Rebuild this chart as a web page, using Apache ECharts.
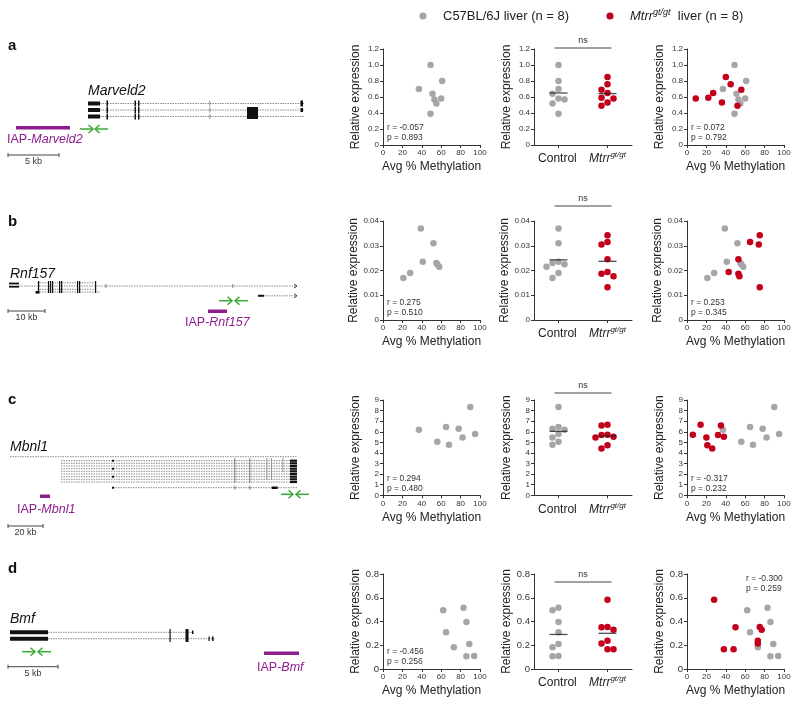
<!DOCTYPE html>
<html><head><meta charset="utf-8">
<script src="https://cdn.jsdelivr.net/npm/echarts@6/dist/echarts.min.js"></script>
<style>html,body{margin:0;padding:0;background:#fff}#c{width:800px;height:707px}</style>
</head><body><div id="c"></div><script>
// ---------------- DATA ----------------
const groupLabels = ['Control', 'Mtrr'];
const genes = ['Marveld2', 'Rnf157', 'Mbnl1', 'Bmf'];

const marveld2CtrlMeth = [37, 49, 51, 53, 55, 49, 61, 60];
const marveld2CtrlExpr = [0.70, 1.00, 0.64, 0.57, 0.52, 0.39, 0.80, 0.58];
const marveld2MtrrMeth = [9, 22, 27, 36, 40, 45, 52, 56];
const marveld2MtrrExpr = [0.58, 0.59, 0.65, 0.53, 0.85, 0.76, 0.49, 0.69];

const rnf157CtrlMeth = [39, 52, 41, 55, 56, 58, 21, 28];
const rnf157CtrlExpr = [0.037, 0.031, 0.0235, 0.023, 0.0225, 0.0215, 0.017, 0.019];
const rnf157MtrrMeth = [65, 75, 74, 53, 43, 53, 54, 75];
const rnf157MtrrExpr = [0.0315, 0.0342, 0.0305, 0.0245, 0.0194, 0.0187, 0.0177, 0.0132];

const mbnl1CtrlMeth = [37, 56, 65, 68, 78, 82, 95, 90];
const mbnl1CtrlExpr = [6.2, 5.05, 6.45, 4.77, 6.28, 5.47, 5.8, 8.33];
const mbnl1MtrrMeth = [6, 14, 20, 21, 26, 32, 35, 38];
const mbnl1MtrrExpr = [5.72, 6.66, 5.47, 4.72, 4.43, 5.69, 6.6, 5.53];

const bmfCtrlMeth = [62, 65, 73, 83, 86, 89, 86, 94];
const bmfCtrlExpr = [0.494, 0.31, 0.183, 0.516, 0.396, 0.21, 0.107, 0.11];
const bmfMtrrMeth = [28, 38, 48, 50, 73, 73, 75, 77];
const bmfMtrrExpr = [0.584, 0.166, 0.166, 0.351, 0.238, 0.215, 0.354, 0.33];

const corrCtrlText = [['r = -0.057', 'p = 0.893'], ['r = 0.275', 'p = 0.510'], ['r = 0.294', 'p = 0.480'], ['r = -0.456', 'p = 0.256']];
const corrAllText = [['r = 0.072', 'p = 0.792'], ['r = 0.253', 'p = 0.345'], ['r = -0.317', 'p = 0.232'], ['r = -0.300', 'p = 0.259']];
const sigText = ['ns', 'ns', 'ns', 'ns'];
const yMaxes = [1.2, 0.04, 9, 0.8];
const yIntervals = [0.2, 0.01, 1, 0.2];
const yDecimals = [1, 2, 0, 1];

const rowsData = [
  [marveld2CtrlMeth, marveld2CtrlExpr, marveld2MtrrMeth, marveld2MtrrExpr],
  [rnf157CtrlMeth, rnf157CtrlExpr, rnf157MtrrMeth, rnf157MtrrExpr],
  [mbnl1CtrlMeth, mbnl1CtrlExpr, mbnl1MtrrMeth, mbnl1MtrrExpr],
  [bmfCtrlMeth, bmfCtrlExpr, bmfMtrrMeth, bmfMtrrExpr]
];

// ---------------- STYLE / LAYOUT ----------------
const C_GREY = '#a6a6a6', C_RED = '#c3001b', C_AX = '#333', C_PURPLE = '#8e1e8c', C_GREEN = '#3aa935';
const FONT = '"Liberation Sans", Arial, Helvetica, sans-serif';
const colLeft = [383, 534, 687], colWidth = [97, 98, 97];
const rowTop = [49, 221, 400, 574], rowHeight = [96, 99, 95.3, 95];
const nsY = [48, 206, 393, 582];
const yLabelSize = [8, 8, 8, 9.5];

function swarm(values, pxPerUnit) {
  const step = 6, minD = 6;
  const order = values.map((v, i) => i).sort((a, b) => values[b] - values[a]);
  const placed = [], off = new Array(values.length).fill(0);
  const cands = [0, -1, 1, -2, 2, -3, 3];
  order.forEach(i => {
    const y = values[i] * pxPerUnit;
    for (const k of cands) {
      const x = k * step;
      if (placed.every(p => Math.hypot(p.x - x, p.y - y) >= minD)) { off[i] = x; placed.push({x, y}); break; }
    }
  });
  return off;
}
const mean = a => a.reduce((s, v) => s + v, 0) / a.length;
const zip = (a, b) => a.map((v, i) => [v, b[i]]);

const grid = [], xAxis = [], yAxis = [], series = [], graphic = [];
const axisCommon = {
  axisLine: {show: true, lineStyle: {color: C_AX, width: 1}},
  axisTick: {show: true, length: 3, lineStyle: {color: C_AX}},
  splitLine: {show: false}
};

rowsData.forEach((rd, r) => {
  const [cM, cE, mM, mE] = rd;
  for (let c = 0; c < 3; c++) {
    const gi = r * 3 + c;
    grid.push({left: colLeft[c], top: rowTop[r], width: colWidth[c], height: rowHeight[r]});
    if (c === 1) {
      xAxis.push(Object.assign({}, axisCommon, {
        gridIndex: gi, type: 'category', data: groupLabels,
        axisTick: {show: true, length: 3, alignWithLabel: true, lineStyle: {color: C_AX}},
        axisLabel: {
          interval: 0, hideOverlap: false,
          margin: 6, color: '#222', fontFamily: FONT, fontSize: 12,
          formatter: v => v === 'Control' ? '{n|Control}{s| }' : '{i|Mtrr}{s|gt/gt}',
          rich: {
            n: {fontSize: 12, fontFamily: FONT, color: '#222'},
            i: {fontStyle: 'italic', fontSize: 12, fontFamily: FONT, color: '#222'},
            s: {fontStyle: 'italic', fontSize: 8, fontFamily: FONT, color: '#222', padding: [0, 0, 8, 0]}
          }
        }
      }));
    } else {
      xAxis.push(Object.assign({}, axisCommon, {
        gridIndex: gi, type: 'value', min: 0, max: 100, interval: 20,
        name: 'Avg % Methylation', nameLocation: 'middle', nameGap: 16,
        nameTextStyle: {fontSize: 12, fontFamily: FONT, color: '#222'},
        axisLabel: {margin: 4, fontSize: 8, fontFamily: FONT, color: C_AX}
      }));
    }
    yAxis.push(Object.assign({}, axisCommon, {
      gridIndex: gi, type: 'value', min: 0, max: yMaxes[r], interval: yIntervals[r],
      name: 'Relative expression', nameLocation: 'middle', nameGap: 21,
      nameTextStyle: {fontSize: 12, fontFamily: FONT, color: '#222'},
      axisLabel: {margin: 4, fontSize: yLabelSize[r], fontFamily: FONT, color: C_AX,
        formatter: v => v === 0 ? '0' : v.toFixed(yDecimals[r])}
    }));
  }
  const g1 = r * 3, g2 = r * 3 + 1, g3 = r * 3 + 2;
  const sc = (gi, data, color) => ({type: 'scatter', xAxisIndex: gi, yAxisIndex: gi, symbolSize: 6.5,
    itemStyle: {color, opacity: 1}, data, silent: true, z: 3});
  // plot 1: controls
  series.push(sc(g1, zip(cM, cE), C_GREY));
  // plot 2: control vs Mtrr
  const pxU = rowHeight[r] / yMaxes[r];
  const offC = swarm(cE, pxU), offM = swarm(mE, pxU);
  series.push(sc(g2, cE.map((v, i) => ({value: [0, v], symbolOffset: [offC[i], 0]})), C_GREY));
  series.push(sc(g2, mE.map((v, i) => ({value: [1, v], symbolOffset: [offM[i], 0]})), C_RED));
  series.push({type: 'scatter', xAxisIndex: g2, yAxisIndex: g2, symbol: 'rect', symbolSize: [18, 1.3],
    itemStyle: {color: '#222'}, data: [[0, mean(cE)], [1, mean(mE)]], silent: true, z: 5});
  // plot 3: all
  series.push(sc(g3, zip(cM, cE), C_GREY));
  series.push(sc(g3, zip(mM, mE), C_RED));
});

// ---------------- GRAPHIC HELPERS ----------------
function ln(x1, y1, x2, y2, stroke, w, dash) {
  graphic.push({type: 'line', silent: true, shape: {x1, y1, x2, y2}, style: {stroke, lineWidth: w || 1, lineDash: dash || null}});
}
function pl(points, stroke, w) {
  graphic.push({type: 'polyline', silent: true, shape: {points}, style: {stroke, fill: null, lineWidth: w || 1}});
}
function rc(x, y, w, h, fill) {
  graphic.push({type: 'rect', silent: true, shape: {x, y, width: w, height: h}, style: {fill: fill || '#111'}});
}
function tx(x, y, text, o) {
  o = o || {};
  graphic.push({type: 'text', silent: true, x, y, style: {
    text, fill: o.fill || '#222', fontSize: o.size || 12, fontFamily: FONT,
    fontStyle: o.italic ? 'italic' : 'normal', fontWeight: o.bold ? 'bold' : 'normal',
    align: o.align || 'left', verticalAlign: o.valign || 'middle', rich: o.rich || undefined
  }});
}
function circ(cx, cy, r, fill) {
  graphic.push({type: 'circle', silent: true, shape: {cx, cy, r}, style: {fill}});
}
function intron(x1, x2, y) { ln(x1, y, x2, y, '#8c8c8c', 1, [1.5, 1]); }
function arrowR(x1, x2, y) { ln(x1, y, x2, y, C_GREEN, 1.5); pl([[x2 - 4.5, y - 4], [x2, y], [x2 - 4.5, y + 4]], C_GREEN, 1.5); }
function arrowL(x1, x2, y) { ln(x1, y, x2, y, C_GREEN, 1.5); pl([[x2 + 4.5, y - 4], [x2, y], [x2 + 4.5, y + 4]], C_GREEN, 1.5); }
function scaleBar(x1, x2, y, label) {
  ln(x1, y, x2, y, '#444', 1); ln(x1, y - 2, x1, y + 2, '#444', 1); ln(x2, y - 2, x2, y + 2, '#444', 1);
  tx((x1 + x2) / 2, y + 7, label, {size: 9, align: 'center', fill: '#333'});
}
const iapRich = {n: {fill: C_PURPLE, color: C_PURPLE, fontSize: 12.5, fontFamily: FONT},
  i: {fill: C_PURPLE, color: C_PURPLE, fontSize: 12.5, fontFamily: FONT, fontStyle: 'italic'}};
function iap(x, y, gene) { tx(x, y, '{n|IAP-}{i|' + gene + '}', {rich: iapRich, fill: C_PURPLE, size: 12.5}); }

// ---------------- LEGEND ----------------
circ(423, 16, 3.6, C_GREY);
tx(443, 16, 'C57BL/6J liver (n = 8)', {size: 13, fill: '#222'});
circ(610, 16, 3.6, C_RED);
tx(630, 16, '{i|Mtrr}{s|gt/gt}{n|  liver (n = 8)}', {size: 13, rich: {
  i: {fontStyle: 'italic', fontSize: 13, fontFamily: FONT, fill: '#222'},
  s: {fontStyle: 'italic', fontSize: 9, fontFamily: FONT, fill: '#222', padding: [0, 0, 8, 0]},
  n: {fontSize: 13, fontFamily: FONT, fill: '#222'}}});

// ---------------- PANEL LETTERS ----------------
[['a', 46], ['b', 222], ['c', 400], ['d', 569]].forEach(([t, y]) => tx(8, y, t, {size: 15, bold: true, fill: '#111'}));

// ---------------- STAT TEXT / NS BARS ----------------
for (let r = 0; r < 4; r++) {
  const bottom = rowTop[r] + rowHeight[r];
  tx(colLeft[0] + 4, bottom - 17, corrCtrlText[r][0], {size: 8.5, fill: C_AX});
  tx(colLeft[0] + 4, bottom - 7, corrCtrlText[r][1], {size: 8.5, fill: C_AX});
  if (r === 3) {
    tx(746, 579, corrAllText[r][0], {size: 8.5, fill: C_AX});
    tx(746, 589, corrAllText[r][1], {size: 8.5, fill: C_AX});
  } else {
    tx(colLeft[2] + 4, bottom - 17, corrAllText[r][0], {size: 8.5, fill: C_AX});
    tx(colLeft[2] + 4, bottom - 7, corrAllText[r][1], {size: 8.5, fill: C_AX});
  }
  const cx = colLeft[1] + colWidth[1] / 2;
  ln(cx - 28.5, nsY[r], cx + 28.5, nsY[r], '#444', 1);
  tx(cx, nsY[r] - 7, sigText[r], {size: 9, align: 'center', fill: C_AX});
}

// ---------------- GENE DIAGRAMS ----------------
// a: Marveld2
tx(88, 91, genes[0], {size: 14, italic: true, fill: '#111'});
[103.5, 110, 116.5].forEach(y => {
  intron(100, 304, y); rc(88, y - 2, 12, 4);
  rc(106.5, y - 3, 1.5, 6); rc(134.5, y - 3, 1.5, 6); rc(138, y - 3, 1.5, 6); rc(209.5, y - 2.5, 0.8, 5, '#666');
});
rc(247, 107, 11, 12);
rc(300.5, 100.5, 2.5, 6); rc(300.5, 108, 2.5, 4);
rc(16, 126, 54, 3.5, C_PURPLE);
iap(7, 140, genes[0]);
arrowR(80, 93, 129); arrowL(108, 95, 129);
scaleBar(8, 59, 155, '5 kb');

// b: Rnf157
tx(10, 274, genes[1], {size: 14, italic: true, fill: '#111'});
rc(9, 282.6, 10, 1.8); rc(9, 285.8, 10, 1.8);
intron(19, 296, 286); intron(37, 95, 282.8); intron(37, 95, 289.3); intron(37, 100, 292);
[38, 48, 50, 52, 59, 61, 77, 79, 95].forEach(x => rc(x, 281, 1.2, 12));
rc(35.5, 291, 4, 2.6);
rc(105.5, 284, 0.8, 4, '#666'); rc(232.5, 284, 0.8, 4, '#666');
pl([[294, 284], [297, 286], [294, 288]], '#333', 1);
rc(258, 294.8, 6, 2); intron(264, 296, 295.8);
pl([[294, 293.8], [297, 295.8], [294, 297.8]], '#333', 1);
arrowR(219, 232, 300.7); arrowL(248, 235, 300.7);
rc(208, 309.5, 19, 3.5, C_PURPLE);
iap(185, 323, genes[1]);
scaleBar(8, 45, 311, '10 kb');

// c: Mbnl1
tx(10, 447, genes[2], {size: 14, italic: true, fill: '#111'});
intron(10, 297, 456.7);
[460.7, 463.3, 466, 468.7, 471.3, 474, 476.7, 479.3, 482].forEach(y => { intron(61, 290, y); rc(290, y - 1.1, 7, 2.2); });
rc(234.5, 458, 0.8, 25, '#555'); rc(249.5, 458, 0.8, 25, '#555');
rc(266.5, 458, 0.8, 22, '#888'); rc(271, 458, 0.8, 22, '#888'); rc(282.5, 458, 0.8, 14, '#888');
[460.7, 468.7, 476.7].forEach(y => rc(112, y - 1, 2, 2));
intron(113, 297, 487.7); rc(112, 486.7, 2, 2); rc(271.7, 486.5, 6, 2.5);
rc(234.5, 485.7, 0.8, 4, '#555'); rc(249.5, 485.7, 0.8, 4, '#555');
rc(40, 494.5, 10, 3.5, C_PURPLE);
iap(17, 510, genes[2]);
arrowR(281, 293, 494.3); arrowL(309, 296, 494.3);
scaleBar(8, 43, 526, '20 kb');

// d: Bmf
tx(10, 619, genes[3], {size: 14, italic: true, fill: '#111'});
[632.3, 638.7].forEach(y => rc(10, y - 2, 38, 4));
intron(48, 193, 632.3); intron(48, 215, 638.7);
rc(169.5, 629, 1.2, 13); rc(185.5, 629, 3, 13);
rc(192, 630.5, 1.5, 3.5); rc(208.5, 636.5, 1.2, 4.5); rc(212, 636.5, 1.5, 4.5);
arrowR(22, 35, 651.7); arrowL(51, 38, 651.7);
scaleBar(8, 58, 666.7, '5 kb');
rc(264, 651.5, 35, 3.5, C_PURPLE);
iap(257, 668, genes[3]);

const chart = echarts.init(document.getElementById('c'), null, {renderer: 'canvas'});
chart.setOption({
  animation: false,
  backgroundColor: '#fff',
  textStyle: {fontFamily: FONT},
  grid, xAxis, yAxis, series,
  graphic: {elements: graphic}
});
</script></body></html>
